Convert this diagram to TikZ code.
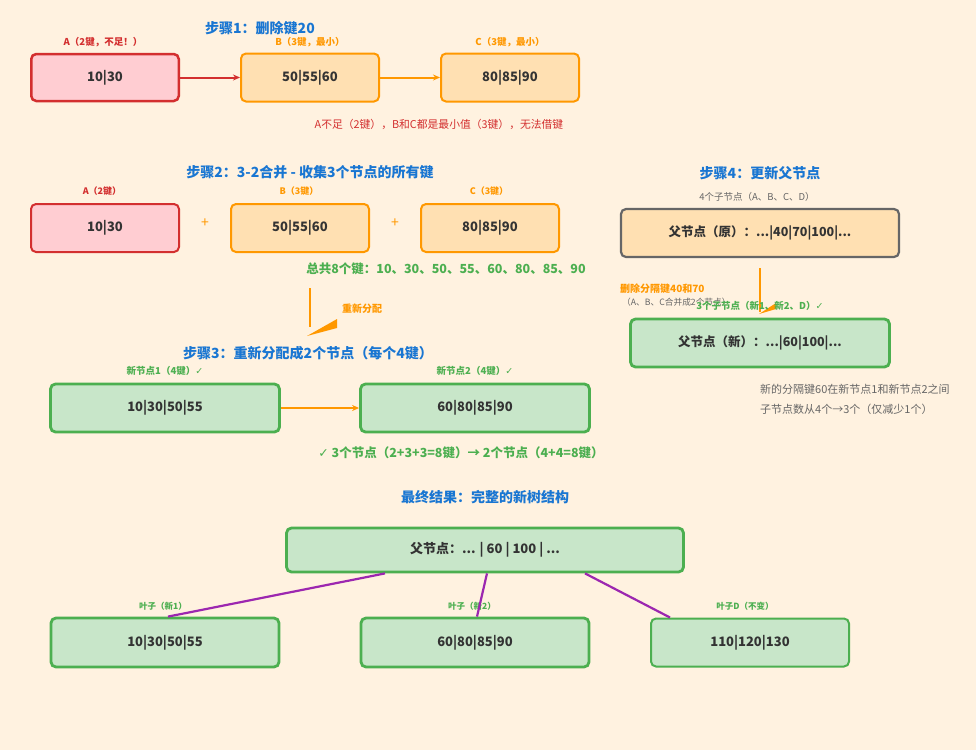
\documentclass[tikz,border=0pt]{standalone}
\usepackage{fontspec}
\setmainfont{Noto Sans CJK SC}
\newfontfamily\symfont{DejaVu Sans}
\usetikzlibrary{arrows.meta}

\definecolor{bg}{HTML}{FFF2E0}
\definecolor{titleblue}{HTML}{1976D2}
\definecolor{redline}{HTML}{D32F2F}
\definecolor{redfill}{HTML}{FFCDD2}
\definecolor{orline}{HTML}{FF9800}
\definecolor{orfill}{HTML}{FFE0B2}
\definecolor{grline}{HTML}{4CAF50}
\definecolor{grfill}{HTML}{C8E6C9}
\definecolor{grayline}{HTML}{666666}
\definecolor{txt}{HTML}{333333}
\definecolor{purp}{HTML}{9C27B0}

\newcommand{\ok}{{\symfont ✓}}

\tikzset{
  title/.style={font=\fontsize{14}{16}\selectfont\bfseries, text=titleblue, inner sep=0pt},
  keybox/.style={rounded corners=5pt, inner sep=0pt, font=\fontsize{13}{15}\selectfont\bfseries, text=txt},
  redbox/.style={keybox, fill=redfill, draw=redline, line width=2.5pt},
  orbox/.style={keybox, fill=orfill, draw=orline, line width=2pt},
  grbox/.style={keybox, fill=grfill, draw=grline, line width=2.8pt},
  grthin/.style={keybox, fill=grfill, draw=grline, line width=2pt},
  graybox/.style={keybox, fill=orfill, draw=grayline, line width=2.2pt},
  lbl/.style={font=\fontsize{9.5}{11}\selectfont\bfseries, inner sep=0pt},
  smalllbl/.style={font=\fontsize{9}{10}\selectfont\bfseries, inner sep=0pt},
  leaflbl/.style={font=\fontsize{8.5}{10}\selectfont\bfseries, text=grline, inner sep=0pt},
  note/.style={font=\fontsize{11}{13}\selectfont, inner sep=0pt},
  link/.style={line width=2pt, -{Stealth[length=7pt,width=6pt]}},
  edge/.style={draw=purp, line width=2.2pt}
}

\begin{document}
\begin{tikzpicture}[x=1pt,y=-1pt]
\fill[bg] (0,0) rectangle (976,750);
\useasboundingbox (0,0) rectangle (976,750);

% ---------- Step 1: delete key 20 ----------
\node[title] (t1) at (260,28) {步骤1：删除键20};
\node[lbl, text=redline] (la) at (103,42) {A（2键，不足！）};
\node[lbl, text=orline] (lb) at (310,42) {B（3键，最小）};
\node[lbl, text=orline] (lc) at (510,42) {C（3键，最小）};
\node[redbox, minimum width=147.5pt, minimum height=47pt] (a1) at (105,77.5) {10|30};
\node[orbox, minimum width=138pt, minimum height=48pt] (b1) at (310,77.5) {50|55|60};
\node[orbox, minimum width=138pt, minimum height=48pt] (c1) at (510,77.5) {80|85|90};
\draw[link, redline] (a1.east) -- (b1.west);
\draw[link, orline] (b1.east) -- (c1.west);
\node[inner sep=0pt, text=redline, font=\fontsize{10.8}{12}\selectfont] (n1) at (439,124) {A不足（2键），B和C都是最小值（3键），无法借键};

% ---------- Step 2: gather all keys ----------
\node[title] (t2) at (310,172) {步骤2：3-2合并 - 收集3个节点的所有键};
\node[smalllbl, text=redline] (la2) at (102,191) {A（2键）};
\node[smalllbl, text=orline] (lb2) at (299,191) {B（3键）};
\node[smalllbl, text=orline] (lc2) at (489,191) {C（3键）};
\node[redbox, line width=2pt, minimum width=148pt, minimum height=48pt] (a2) at (105,228) {10|30};
\node[orbox, minimum width=138pt, minimum height=48pt] (b2) at (300,228) {50|55|60};
\node[orbox, minimum width=138pt, minimum height=48pt] (c2) at (490,228) {80|85|90};
\node[text=orline, font=\fontsize{14}{15}\selectfont, inner sep=0pt] (p1) at (205,223) {+};
\node[text=orline, font=\fontsize{14}{15}\selectfont, inner sep=0pt] (p2) at (395,223) {+};
\node[font=\fontsize{12.5}{14}\selectfont\bfseries, text=grline, inner sep=0pt] (tot) at (446,269) {总共8个键：10、30、50、55、60、80、85、90};

% redistribution pointer
\coordinate (r1) at (310,288);
\coordinate (r2) at (310,327);
\draw[orline, line width=2.5pt] (r1) -- (r2);
\fill[orline] (307,336) -- (337,319) -- (337,328) -- cycle;
\node[font=\fontsize{10}{12}\selectfont\bfseries, text=orline, inner sep=0pt] (rl) at (362,309) {重新分配};

% ---------- Step 3: two new nodes ----------
\node[title] (t3) at (308,353) {步骤3：重新分配成2个节点（每个4键）};
\node[lbl, text=grline] (ln1) at (165,371) {新节点1（4键）\ok};
\node[lbl, text=grline] (ln2) at (475,371) {新节点2（4键）\ok};
\node[grbox, minimum width=229pt, minimum height=48pt] (nn1) at (165,408) {10|30|50|55};
\node[grbox, minimum width=229pt, minimum height=48pt] (nn2) at (475,408) {60|80|85|90};
\draw[link, orline] (nn1.east) -- (nn2.west);
\node[font=\fontsize{12.5}{14}\selectfont\bfseries, text=grline, inner sep=0pt] (chk) at (461,453) {\ok\ 3个节点（2+3+3=8键）→ 2个节点（4+4=8键）};

% ---------- Step 4: update the parent ----------
\node[title] (t4) at (760,173) {步骤4：更新父节点};
\node[font=\fontsize{9.5}{11}\selectfont, text=grayline, inner sep=0pt] (kids4) at (757,197) {4个子节点（A、B、C、D）};
\node[graybox, minimum width=278pt, minimum height=48pt, font=\fontsize{12.5}{14}\selectfont\bfseries] (po) at (760,233) {父节点（原）：...|40|70|100|...};
\coordinate (u1) at (760,268);
\coordinate (u2) at (760,312);
\draw[orline, line width=2pt] (u1) -- (u2);
\fill[orline] (759,314) -- (776,303) -- (776,309) -- cycle;
\node[font=\fontsize{10}{12}\selectfont\bfseries, text=orline, inner sep=0pt, anchor=west] (del) at (620,289) {删除分隔键40和70};
\node[font=\fontsize{8.7}{10}\selectfont, text=grayline, inner sep=0pt, anchor=west] (abc) at (622,302) {（A、B、C合并成2个节点）};
\node[font=\fontsize{9.5}{11}\selectfont\bfseries, text=grline, inner sep=0pt] (kids3) at (760,306) {3个子节点（新1、新2、D）\ok};
\node[grbox, minimum width=259pt, minimum height=48pt, font=\fontsize{12.5}{14}\selectfont\bfseries] (pn) at (760,343) {父节点（新）：...|60|100|...};
\node[note, text=grayline, anchor=west] (sep) at (760,389) {新的分隔键60在新节点1和新节点2之间};
\node[note, text=grayline, anchor=west] (cnt) at (760,409) {子节点数从4个→3个（仅减少1个）};

% ---------- Final tree ----------
\node[title] (t5) at (485,497) {最终结果：完整的新树结构};
\node[grbox, minimum width=397pt, minimum height=44pt] (root) at (485,550) {父节点：... | 60 | 100 | ...};
\node[leaflbl] (ll1) at (163,606) {叶子（新1）};
\node[leaflbl] (ll2) at (472,606) {叶子（新2）};
\node[leaflbl] (ll3) at (745,606) {叶子D（不变）};
\node[grbox, minimum width=228pt, minimum height=49pt] (leaf1) at (165,642.5) {10|30|50|55};
\node[grbox, minimum width=228pt, minimum height=49pt] (leaf2) at (475,642.5) {60|80|85|90};
\node[grthin, minimum width=198pt, minimum height=48pt] (leaf3) at (750,642.5) {110|120|130};
\draw[edge] ([xshift=-100pt]root.south) -- ([xshift=3pt]leaf1.north);
\draw[edge] ([xshift=2pt]root.south) -- ([xshift=2pt]leaf2.north);
\draw[edge] ([xshift=100pt]root.south) -- ([xshift=-80pt]leaf3.north);
\end{tikzpicture}
\end{document}
